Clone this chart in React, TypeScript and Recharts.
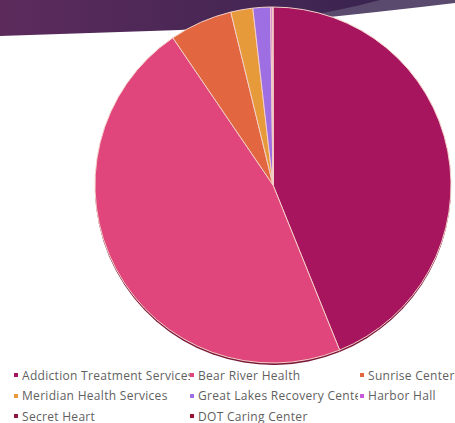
import { Cell, Pie, PieChart } from 'recharts';

const centers = [
  'Addiction Treatment Services',
  'Bear River Health',
  'Sunrise Center',
  'Meridian Health Services',
  'Great Lakes Recovery Centers',
  'Harbor Hall',
  'Secret Heart',
  'DOT Caring Center',
];
const shares = [43.9, 46.6, 5.7, 2.0, 1.6, 0.15, 0.03, 0.03];
const colors = ['#A8155F', '#E0457B', '#E2663F', '#E69A3A', '#9E6FE3', '#C65AD8', '#8C1848', '#9A1232'];

const data = centers.map((name, i) => ({ name, value: shares[i] }));

// legend columns: left offset of each column, and its width (text gets cut like the original)
const legendCols = [
  { left: 14, width: 176 },
  { left: 190, width: 168 },
  { left: 360, width: 95 },
];

function Banner() {
  return (
    <svg width={455} height={60} style={{ position: 'absolute', left: 0, top: 0 }}>
      <defs>
        <linearGradient id="band" x1="0" y1="0" x2="1" y2="0">
          <stop offset="0%" stopColor="#5C2B5C" />
          <stop offset="100%" stopColor="#3A2450" />
        </linearGradient>
      </defs>
      <path d="M300 0 L455 0 L455 3 Q380 12 300 20 Z" fill="#5A4A6E" />
      <path d="M0 0 L380 0 Q300 22 180 30 Q90 33 0 36 Z" fill="url(#band)" />
    </svg>
  );
}

function Legend() {
  return (
    <div style={{ position: 'absolute', left: 0, top: 366, width: 455, height: 57 }}>
      {data.map((d, i) => {
        const col = legendCols[i % 3];
        const row = Math.floor(i / 3);
        return (
          <div
            key={d.name}
            style={{
              position: 'absolute',
              left: col.left,
              top: row * 20.5,
              width: col.width,
              height: 18,
              overflow: 'hidden',
              whiteSpace: 'nowrap',
              display: 'flex',
              alignItems: 'center',
              fontFamily: '"Open Sans", sans-serif',
              fontSize: 12,
              letterSpacing: 0.3,
              color: '#5F5F5F',
            }}
          >
            <span style={{ width: 4, height: 4, background: colors[i], marginRight: 4, flex: 'none' }} />
            {d.name}
          </div>
        );
      })}
    </div>
  );
}

export default function App() {
  return (
    <div style={{ position: 'absolute', left: 0, top: 0, width: 455, height: 423, background: '#fff', overflow: 'hidden' }}>
      <Banner />
      <div style={{ position: 'absolute', left: 0, top: 0 }}>
        <PieChart width={455} height={370} margin={{ top: 0, right: 0, bottom: 0, left: 0 }}>
          {/* darker rim under the pie, like the 3D edge */}
          <Pie
            data={data}
            dataKey="value"
            cx={273}
            cy={187}
            outerRadius={178}
            startAngle={90}
            endAngle={-270}
            stroke="none"
            fill="#7A1838"
            isAnimationActive={false}
          />
          <Pie
            data={data}
            dataKey="value"
            cx={273}
            cy={185}
            outerRadius={178}
            startAngle={90}
            endAngle={-270}
            stroke="#F4D0C8"
            strokeWidth={1}
            isAnimationActive={false}
          >
            {data.map((d, i) => (
              <Cell key={d.name} fill={colors[i]} />
            ))}
          </Pie>
        </PieChart>
      </div>
      <Legend />
    </div>
  );
}
